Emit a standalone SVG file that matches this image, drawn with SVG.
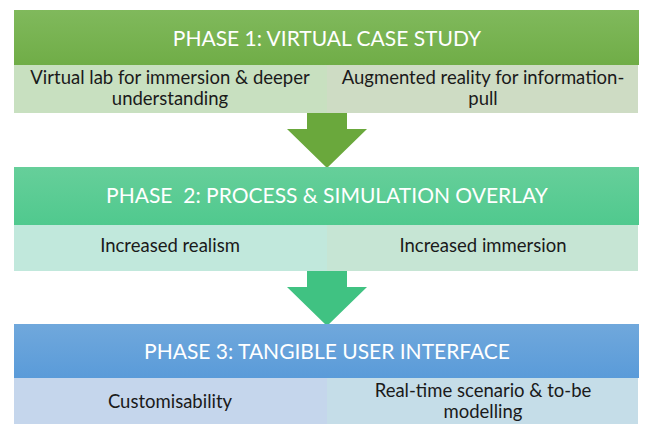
<svg xmlns="http://www.w3.org/2000/svg" width="646" height="424" viewBox="0 0 646 424">
<defs>
<linearGradient id="g1" x1="0" y1="0" x2="0" y2="1"><stop offset="0" stop-color="#80b95c"/><stop offset="1" stop-color="#70ad47"/></linearGradient>
<linearGradient id="g2" x1="0" y1="0" x2="0" y2="1"><stop offset="0" stop-color="#66cf9a"/><stop offset="1" stop-color="#50c98e"/></linearGradient>
<linearGradient id="g3" x1="0" y1="0" x2="0" y2="1"><stop offset="0" stop-color="#70a8dc"/><stop offset="1" stop-color="#5a9bd9"/></linearGradient>
<style>
.hd{font-family:Lato,"Liberation Sans",sans-serif;font-size:21px;fill:#ffffff;text-anchor:middle}
.sb{font-family:Lato,"Liberation Sans",sans-serif;font-size:18.5px;fill:#1a1a1a;text-anchor:middle}
</style>
</defs>
<rect width="646" height="424" fill="#ffffff"/>
<g id="connectors">
<polygon points="307,113 347,113 347,129 367,129 327,168 287,129 307,129" fill="#6aa83c"/>
<polygon points="307,271 347,271 347,287 367,287 327,326 287,287 307,287" fill="#40c282"/>
</g>
<g id="phase1">
<rect x="14" y="10" width="625" height="55" fill="url(#g1)"/>
<rect x="14" y="65" width="313" height="48" fill="#c8e0c0"/>
<rect x="327" y="65" width="311" height="48" fill="#cedcc4"/>
<text class="hd" x="327" y="46">PHASE 1: VIRTUAL CASE STUDY</text>
<text class="sb" x="170" y="84">Virtual lab for immersion &amp; deeper</text>
<text class="sb" x="170" y="105">understanding</text>
<text class="sb" x="483" y="84">Augmented reality for information-</text>
<text class="sb" x="483" y="105">pull</text>
</g>
<g id="phase2">
<rect x="14" y="167" width="625" height="58" fill="url(#g2)"/>
<rect x="14" y="225" width="313" height="46" fill="#c1e8dc"/>
<rect x="327" y="225" width="311" height="46" fill="#c6e5d4"/>
<text class="hd" x="327" y="203" xml:space="preserve">PHASE  2: PROCESS &amp; SIMULATION OVERLAY</text>
<text class="sb" x="170" y="252">Increased realism</text>
<text class="sb" x="483" y="252">Increased immersion</text>
</g>
<g id="phase3">
<rect x="14" y="324" width="625" height="54" fill="url(#g3)"/>
<rect x="14" y="378" width="313" height="46" fill="#c5d6ec"/>
<rect x="327" y="378" width="311" height="46" fill="#c5dde8"/>
<text class="hd" x="327" y="359">PHASE 3: TANGIBLE USER INTERFACE</text>
<text class="sb" x="170" y="408">Customisability</text>
<text class="sb" x="483" y="397">Real-time scenario &amp; to-be</text>
<text class="sb" x="483" y="418">modelling</text>
</g>
</svg>
